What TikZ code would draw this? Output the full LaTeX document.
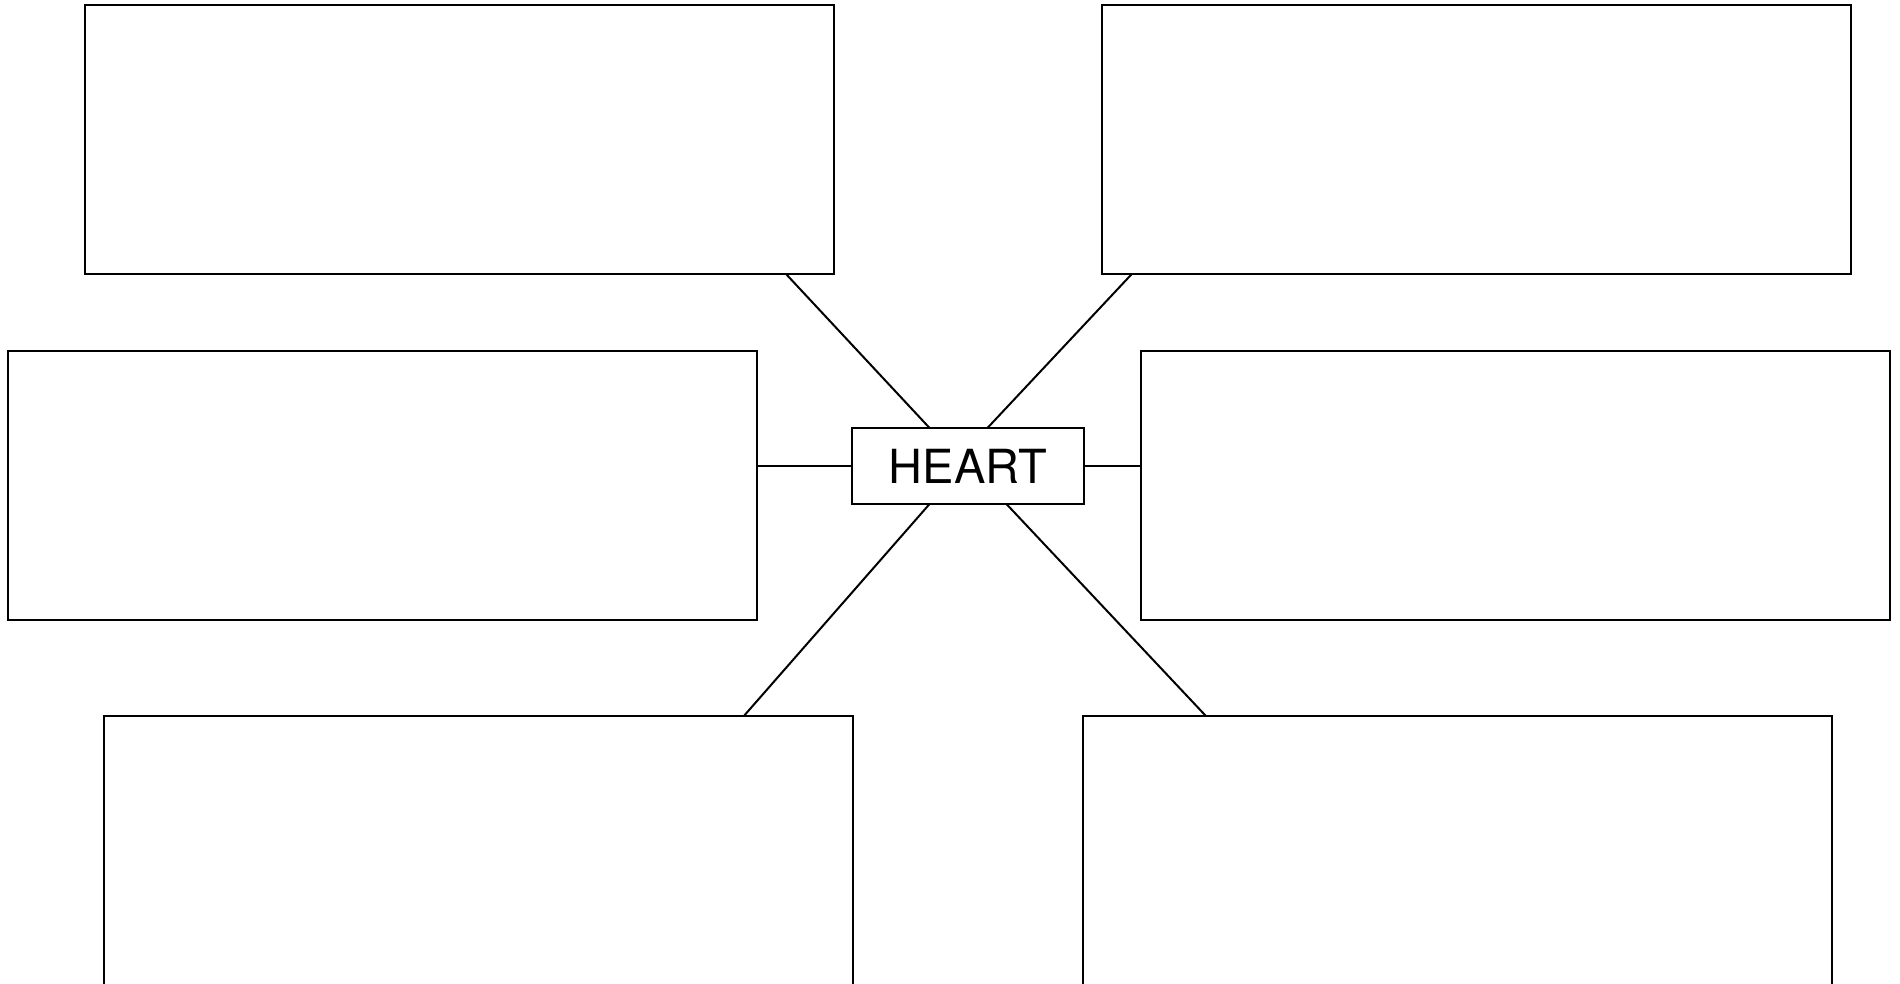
\documentclass[tikz,border=0pt]{standalone}
\usepackage{fontspec}
\setmainfont{TeX Gyre Heros}
\begin{document}
\begin{tikzpicture}[x=0.5pt,y=-0.5pt,
  bigbox/.style={draw=black,line width=1pt,fill=white,inner sep=0pt,outer sep=0pt,minimum width=374.5pt,minimum height=134.5pt},
  hub/.style={draw=black,line width=1pt,fill=white,inner sep=0pt,outer sep=0pt,minimum width=115.7pt,minimum height=38.3pt,font=\fontsize{23.5}{28}\selectfont},
  link/.style={draw=black,line width=1pt}]
\useasboundingbox (0,0) rectangle (1900,984);
\node[bigbox] (tl) at (459.2,139.5) {};
\node[bigbox] (tr) at (1476.9,139.5) {};
\node[bigbox] (ml) at (382.5,485.5) {};
\node[bigbox] (mr) at (1515.3,485.5) {};
\node[bigbox] (bl) at (478.5,850) {};
\node[bigbox] (br) at (1457.5,850.5) {};
\node[hub] (heart) at (968,466) {HEART};
\path (tl.south west) ++(701.3,0) coordinate (tlA);
\path (tr.south west) ++(29.4,0) coordinate (trA);
\path (bl.north west) ++(640.3,0) coordinate (blA);
\path (br.north west) ++(122.9,0) coordinate (brA);
\path (heart.north west) ++(77,0) coordinate (hN1);
\path (heart.north west) ++(135.4,0) coordinate (hN2);
\path (heart.south west) ++(77,0) coordinate (hS1);
\path (heart.south west) ++(154.4,0) coordinate (hS2);
\draw[link] (tlA) -- (hN1);
\draw[link] (trA) -- (hN2);
\draw[link] (hS1) -- (blA);
\draw[link] (hS2) -- (brA);
\draw[link] (heart.west) -- (heart.west -| ml.east);
\draw[link] (heart.east) -- (heart.east -| mr.west);
\end{tikzpicture}
\end{document}
